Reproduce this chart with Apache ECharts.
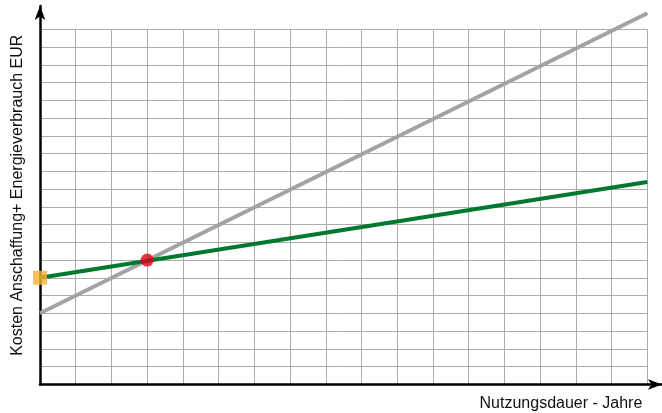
<!DOCTYPE html>
<html>
<head>
<meta charset="utf-8">
<script src="https://cdn.jsdelivr.net/npm/echarts@6/dist/echarts.min.js"></script>
<style>html,body{margin:0;padding:0;background:#fff}#c{width:662px;height:413px}</style>
</head>
<body>
<div id="c"></div>
<script>
// Data (units: grid cells)
var yearsRange = [0, 17];
var costRange = [0, 20];
var grayLine = [[0, 4], [17, 20.9]];
var greenLine = [[0, 6], [17, 11.4]];
var startPoint = [[0, 6]];
var breakEven = [[3, 7]];
var xName = 'Nutzungsdauer - Jahre';
var yName = 'Kosten Anschaffung+ Energieverbrauch EUR';

var chart = echarts.init(document.getElementById('c'), null, {renderer: 'canvas'});
var gridColor = '#ababab';
chart.setOption({
  animation: false,
  grid: [
    {left: 40, top: 29.3, width: 607.3, height: 355},
    {left: 40, top: 6, right: 0, bottom: 28.5}
  ],
  xAxis: [
    {gridIndex: 0, type: 'value', min: yearsRange[0], max: yearsRange[1], interval: 1,
     axisLine: {show: false}, axisTick: {show: false}, axisLabel: {show: false},
     splitLine: {show: true, lineStyle: {color: gridColor, width: 1}},
     name: xName, nameLocation: 'end', nameGap: -5,
     nameTextStyle: {fontFamily: 'Liberation Sans', fontSize: 16, color: '#111', align: 'right', verticalAlign: 'top', padding: [11, 0, 0, 0]}},
    {gridIndex: 1, type: 'value', min: 0, max: 1,
     axisLine: {show: true, symbol: ['none', 'arrow'], symbolSize: [8, 14], lineStyle: {color: '#000', width: 2.5}},
     axisTick: {show: false}, axisLabel: {show: false}, splitLine: {show: false}}
  ],
  yAxis: [
    {gridIndex: 0, type: 'value', min: costRange[0], max: costRange[1], interval: 1,
     axisLine: {show: false}, axisTick: {show: false}, axisLabel: {show: false},
     splitLine: {show: true, lineStyle: {color: gridColor, width: 1}}},
    {gridIndex: 1, type: 'value', min: 0, max: 1,
     axisLine: {show: true, symbol: ['none', 'arrow'], symbolSize: [8, 14], lineStyle: {color: '#000', width: 2.5}},
     axisTick: {show: false}, axisLabel: {show: false}, splitLine: {show: false},
     name: yName, nameLocation: 'middle', nameGap: 14, nameRotate: 90,
     nameTextStyle: {fontFamily: 'Liberation Sans', fontSize: 16, color: '#111'}}
  ],
  series: [
    {type: 'line', xAxisIndex: 0, yAxisIndex: 0, data: grayLine, showSymbol: false, clip: false,
     lineStyle: {color: '#a3a3a3', width: 4}, z: 2},
    {type: 'line', xAxisIndex: 0, yAxisIndex: 0, data: greenLine, showSymbol: false, clip: false,
     lineStyle: {color: '#00792f', width: 4}, z: 3},
    {type: 'scatter', xAxisIndex: 0, yAxisIndex: 0, data: startPoint, symbol: 'rect', symbolSize: 14,
     itemStyle: {color: '#f8b132'}, z: 5, clip: false},
    {type: 'scatter', xAxisIndex: 0, yAxisIndex: 0, data: breakEven, symbol: 'circle', symbolSize: 13,
     itemStyle: {color: '#e3001b'}, z: 5, clip: false}
  ]
});
</script>
</body>
</html>
